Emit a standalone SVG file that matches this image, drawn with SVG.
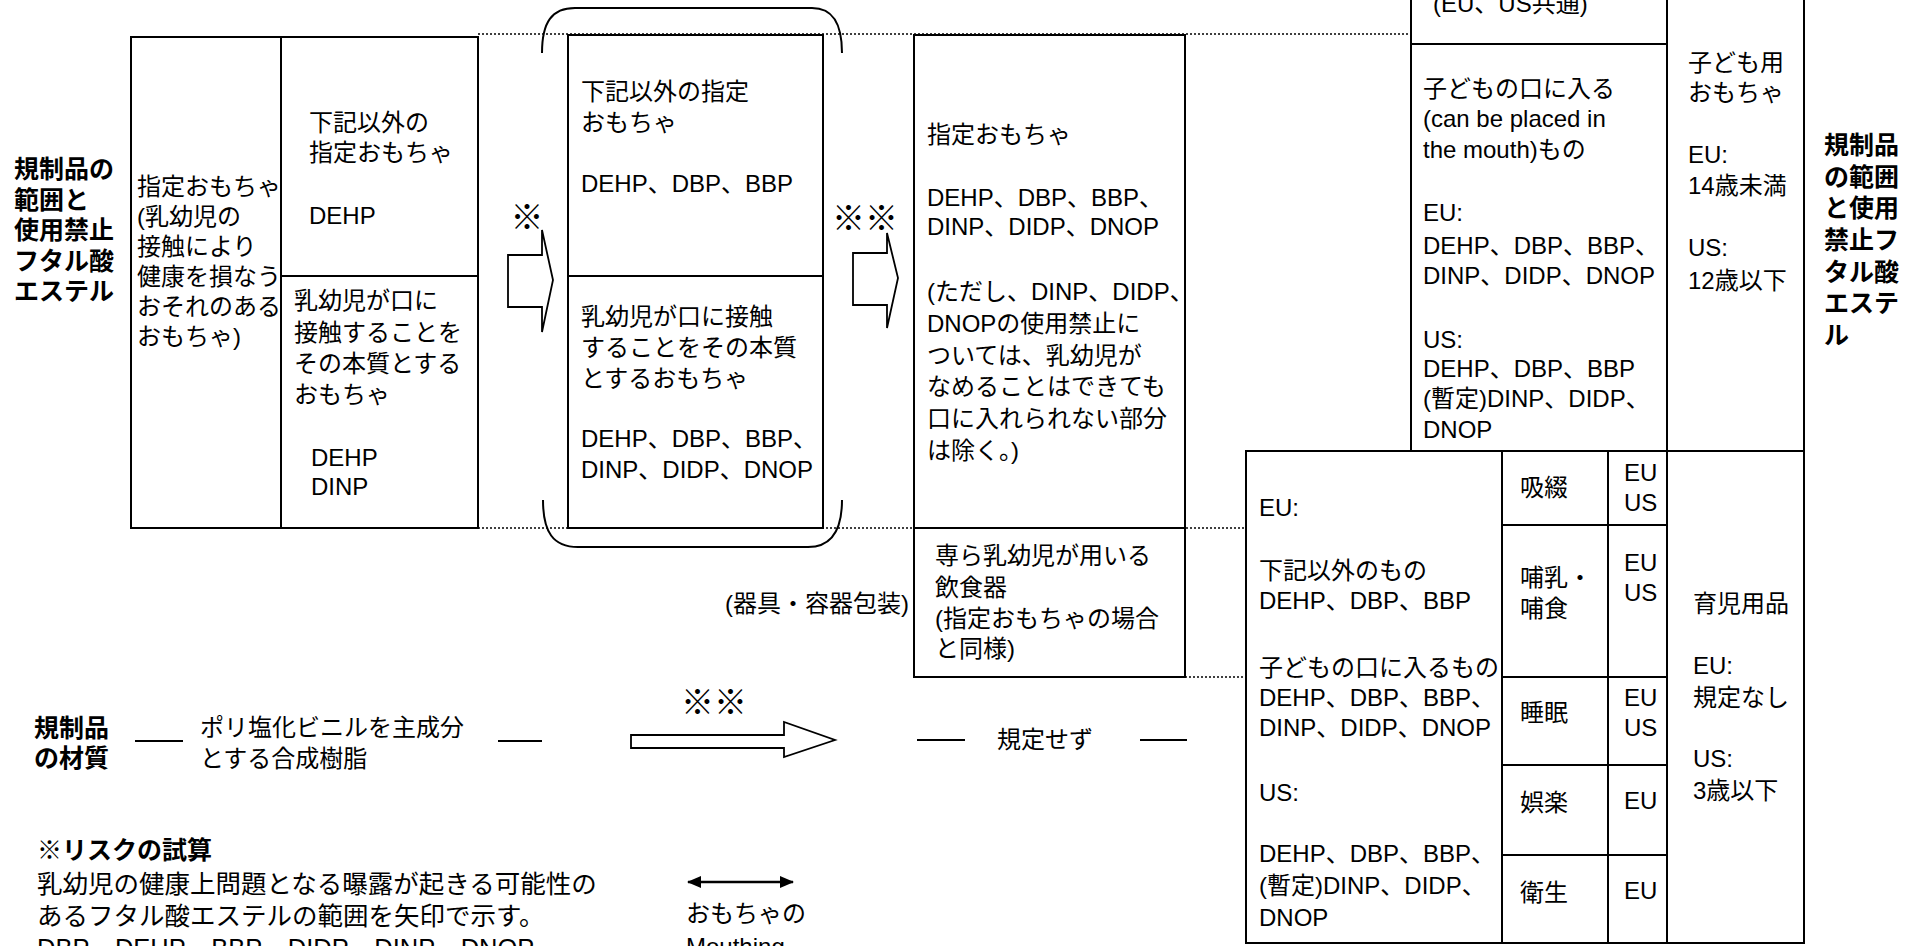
<svg xmlns="http://www.w3.org/2000/svg" width="1917" height="946" viewBox="0 0 1917 946">
<style>
text{font-family:"Liberation Sans","Noto Sans CJK JP",sans-serif;font-size:24px;fill:#000}
.b{font-weight:bold;font-size:25px}
.n{font-size:25.5px}
.k{font-size:33px;font-weight:bold}
.box{fill:#fff;stroke:#000;stroke-width:2}
.ln{fill:none;stroke:#000;stroke-width:2}
.dot{fill:none;stroke:#000;stroke-width:1.5;stroke-dasharray:2 2}
.arr{fill:#fff;stroke:#000;stroke-width:1.8;stroke-linejoin:miter}
</style>
<defs>
<marker id="ah" viewBox="0 0 14 12" refX="13" refY="6" markerWidth="14" markerHeight="12" markerUnits="userSpaceOnUse" orient="auto-start-reverse"><path d="M0,0 L14,6 L0,12 Z" fill="#000"/></marker>
</defs>
<rect width="1917" height="946" fill="#fff"/>

<g id="connectors">
<line class="dot" x1="478" y1="34" x2="1411" y2="34"/>
<line class="dot" x1="478" y1="528" x2="1502" y2="528"/>
<line class="dot" x1="1185" y1="677" x2="1502" y2="677"/>
<path class="ln" d="M542,53 C542,22 552,8 575,8 L812,8 C832,8 842,22 842,53"/>
<path class="ln" d="M543,500 C543,532 553,547 578,547 L808,547 C830,547 842,532 842,500"/>
<polygon class="arr" points="542,230 542,255 508,255 508,307 542,307 542,332 553,280"/>
<polygon class="arr" points="887,233 887,253 853,253 853,305 887,305 887,328 898,278"/>
<polygon class="arr" points="631,735 784,735 784,722 835,740 784,757 784,748 631,748"/>
<line class="ln" x1="135" y1="741" x2="183" y2="741"/>
<line class="ln" x1="498" y1="741" x2="542" y2="741"/>
<line class="ln" x1="917" y1="740" x2="965" y2="740"/>
<line class="ln" x1="1140" y1="740" x2="1187" y2="740"/>
<line stroke="#000" stroke-width="2.5" x1="688" y1="882" x2="793" y2="882" marker-start="url(#ah)" marker-end="url(#ah)"/>
<text class="k" x="527" y="229" text-anchor="middle">※</text>
<text class="k" x="865" y="230" text-anchor="middle">※※</text>
<text class="k" x="714" y="714" text-anchor="middle">※※</text>
</g>

<g id="label-left">
<text class="b" x="14" y="178">規制品の</text>
<text class="b" x="14" y="209">範囲と</text>
<text class="b" x="14" y="239">使用禁止</text>
<text class="b" x="14" y="270">フタル酸</text>
<text class="b" x="14" y="300">エステル</text>
</g>

<g id="box-jp-old">
<rect class="box" x="131" y="37" width="347" height="491"/>
<line class="ln" x1="281" y1="37" x2="281" y2="528"/>
<line class="ln" x1="281" y1="276" x2="478" y2="276"/>
<text x="137" y="195">指定おもちゃ</text>
<text x="137" y="225">(乳幼児の</text>
<text x="137" y="255">接触により</text>
<text x="137" y="285">健康を損なう</text>
<text x="137" y="315">おそれのある</text>
<text x="137" y="345">おもちゃ)</text>
<text x="309" y="131">下記以外の</text>
<text x="309" y="161">指定おもちゃ</text>
<text x="309" y="224">DEHP</text>
<text x="294" y="309">乳幼児が口に</text>
<text x="294" y="341">接触することを</text>
<text x="294" y="372">その本質とする</text>
<text x="294" y="403">おもちゃ</text>
<text x="311" y="466">DEHP</text>
<text x="311" y="495">DINP</text>
</g>

<g id="box-jp-mid">
<rect class="box" x="568" y="35" width="255" height="493"/>
<line class="ln" x1="568" y1="276" x2="823" y2="276"/>
<text x="581" y="100">下記以外の指定</text>
<text x="581" y="131">おもちゃ</text>
<text x="581" y="192">DEHP、DBP、BBP</text>
<text x="581" y="325">乳幼児が口に接触</text>
<text x="581" y="356">することをその本質</text>
<text x="581" y="387">とするおもちゃ</text>
<text x="581" y="447">DEHP、DBP、BBP、</text>
<text x="581" y="478">DINP、DIDP、DNOP</text>
</g>

<g id="box-jp-new">
<rect class="box" x="914" y="35" width="271" height="642"/>
<line class="ln" x1="914" y1="528" x2="1185" y2="528"/>
<text x="927" y="143">指定おもちゃ</text>
<text x="927" y="206">DEHP、DBP、BBP、</text>
<text x="927" y="235">DINP、DIDP、DNOP</text>
<text x="927" y="300">(ただし、DINP、DIDP、</text>
<text x="927" y="332">DNOPの使用禁止に</text>
<text x="927" y="364">ついては、乳幼児が</text>
<text x="927" y="395">なめることはできても</text>
<text x="927" y="427">口に入れられない部分</text>
<text x="927" y="459">は除く。)</text>
<text x="935" y="564">専ら乳幼児が用いる</text>
<text x="935" y="596">飲食器</text>
<text x="935" y="627">(指定おもちゃの場合</text>
<text x="935" y="657">と同様)</text>
</g>

<g id="label-utensil">
<text x="909" y="612" text-anchor="end">(器具・容器包装)</text>
</g>

<g id="box-euus-toys">
<rect class="box" x="1411" y="-4" width="393" height="455"/>
<line class="ln" x1="1667" y1="-4" x2="1667" y2="451"/>
<line class="ln" x1="1411" y1="44" x2="1667" y2="44"/>
<text x="1433" y="12">(EU、US共通)</text>
<text x="1423" y="97">子どもの口に入る</text>
<text x="1423" y="127">(can be placed in</text>
<text x="1423" y="158">the mouth)もの</text>
<text x="1423" y="221">EU:</text>
<text x="1423" y="254">DEHP、DBP、BBP、</text>
<text x="1423" y="284">DINP、DIDP、DNOP</text>
<text x="1423" y="348">US:</text>
<text x="1423" y="377">DEHP、DBP、BBP</text>
<text x="1423" y="407">(暫定)DINP、DIDP、</text>
<text x="1423" y="438">DNOP</text>
<text x="1688" y="71">子ども用</text>
<text x="1688" y="101">おもちゃ</text>
<text x="1688" y="163">EU:</text>
<text x="1688" y="194">14歳未満</text>
<text x="1688" y="256">US:</text>
<text x="1688" y="289">12歳以下</text>
</g>

<g id="label-right">
<text class="b" x="1824" y="154">規制品</text>
<text class="b" x="1824" y="186">の範囲</text>
<text class="b" x="1824" y="217">と使用</text>
<text class="b" x="1824" y="249">禁止フ</text>
<text class="b" x="1824" y="281">タル酸</text>
<text class="b" x="1824" y="312">エステ</text>
<text class="b" x="1824" y="344">ル</text>
</g>

<g id="box-euus-childcare">
<rect class="box" x="1246" y="451" width="558" height="492"/>
<line class="ln" x1="1502" y1="451" x2="1502" y2="943"/>
<line class="ln" x1="1608" y1="451" x2="1608" y2="943"/>
<line class="ln" x1="1667" y1="451" x2="1667" y2="943"/>
<line class="ln" x1="1502" y1="525" x2="1667" y2="525"/>
<line class="ln" x1="1502" y1="677" x2="1667" y2="677"/>
<line class="ln" x1="1502" y1="765" x2="1667" y2="765"/>
<line class="ln" x1="1502" y1="855" x2="1667" y2="855"/>
<text x="1259" y="516">EU:</text>
<text x="1259" y="579">下記以外のもの</text>
<text x="1259" y="609">DEHP、DBP、BBP</text>
<text x="1259" y="676">子どもの口に入るもの</text>
<text x="1259" y="706">DEHP、DBP、BBP、</text>
<text x="1259" y="736">DINP、DIDP、DNOP</text>
<text x="1259" y="801">US:</text>
<text x="1259" y="862">DEHP、DBP、BBP、</text>
<text x="1259" y="894">(暫定)DINP、DIDP、</text>
<text x="1259" y="926">DNOP</text>
<text x="1520" y="496">吸綴</text>
<text x="1520" y="586">哺乳・</text>
<text x="1520" y="617">哺食</text>
<text x="1520" y="721">睡眠</text>
<text x="1520" y="811">娯楽</text>
<text x="1520" y="901">衛生</text>
<text x="1624" y="481">EU</text>
<text x="1624" y="511">US</text>
<text x="1624" y="571">EU</text>
<text x="1624" y="601">US</text>
<text x="1624" y="706">EU</text>
<text x="1624" y="736">US</text>
<text x="1624" y="809">EU</text>
<text x="1624" y="899">EU</text>
<text x="1693" y="612">育児用品</text>
<text x="1693" y="674">EU:</text>
<text x="1693" y="706">規定なし</text>
<text x="1693" y="767">US:</text>
<text x="1693" y="799">3歳以下</text>
</g>

<g id="material">
<text class="b" x="34" y="737">規制品</text>
<text class="b" x="34" y="767">の材質</text>
<text x="200" y="736">ポリ塩化ビニルを主成分</text>
<text x="200" y="767">とする合成樹脂</text>
<text x="997" y="748">規定せず</text>
</g>

<g id="note">
<text class="b" x="37" y="859">※リスクの試算</text>
<text class="n" x="37" y="893">乳幼児の健康上問題となる曝露が起きる可能性の</text>
<text class="n" x="37" y="925">あるフタル酸エステルの範囲を矢印で示す。</text>
<text class="n" x="37" y="957">DBP、DEHP、BBP、DIDP、DINP、DNOP</text>
</g>

<g id="legend">
<text x="686" y="922">おもちゃの</text>
<text x="686" y="955">Mouthing</text>
</g>
</svg>
